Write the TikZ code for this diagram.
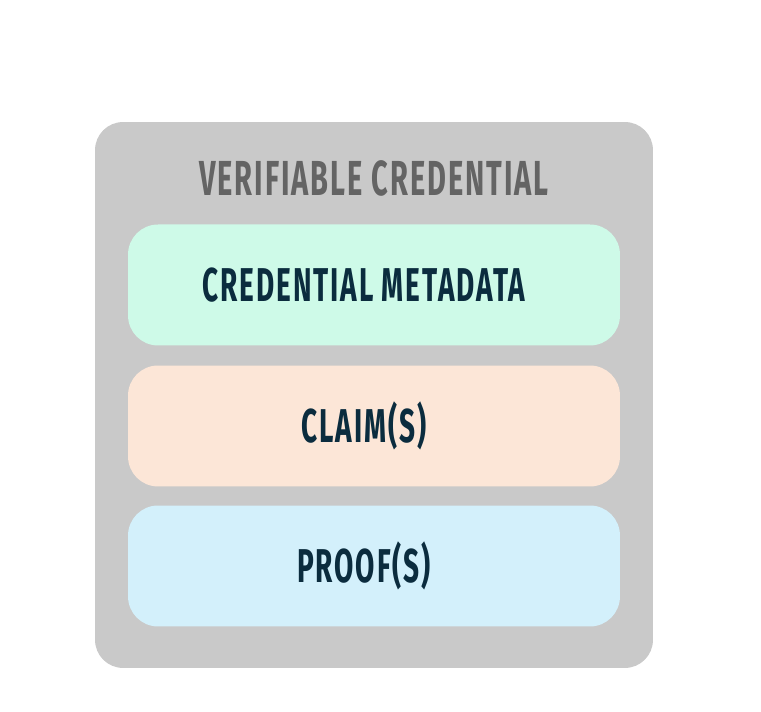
\documentclass[tikz,border=0pt]{standalone}
\usepackage{fontspec}
\newfontfamily\runefont[FakeStretch=0.59, LetterSpace=4]{Fira Sans}
\definecolor{cardgrey}{HTML}{C9C9C9}
\definecolor{titlegrey}{HTML}{646464}
\definecolor{inkblue}{HTML}{0B2C3E}
\definecolor{metamint}{HTML}{CEFAE8}
\definecolor{claimpeach}{HTML}{FCE6D7}
\definecolor{proofblue}{HTML}{D3F0FB}

\begin{document}
\begin{tikzpicture}[x=0.02cm, y=0.02cm,
	layer/.style={rectangle, rounded corners=0.6cm, minimum width=9.84cm,
	minimum height=2.42cm, inner sep=0pt, text=inkblue,
	font=\runefont\bfseries\fontsize{27}{30}\selectfont}]
\useasboundingbox (0,0) rectangle (761,712);
\node [rectangle, rounded corners=0.56cm, fill=cardgrey, minimum width=11.16cm,
	minimum height=10.92cm] (card) at (374,317) {};
\node [text=titlegrey, font=\runefont\bfseries\fontsize{28}{30}\selectfont] (title) at (374,534) {VERIFIABLE CREDENTIAL};
\node [layer, fill=metamint] (meta) at (374,427) {CREDENTIAL METADATA\hspace*{0.4cm}};
\node [layer, fill=claimpeach] (claims) at (374,286) {CLAIM(S)\hspace*{0.4cm}};
\node [layer, fill=proofblue] (proofs) at (374,146) {PROOF(S)\hspace*{0.4cm}};
\end{tikzpicture}
\end{document}
